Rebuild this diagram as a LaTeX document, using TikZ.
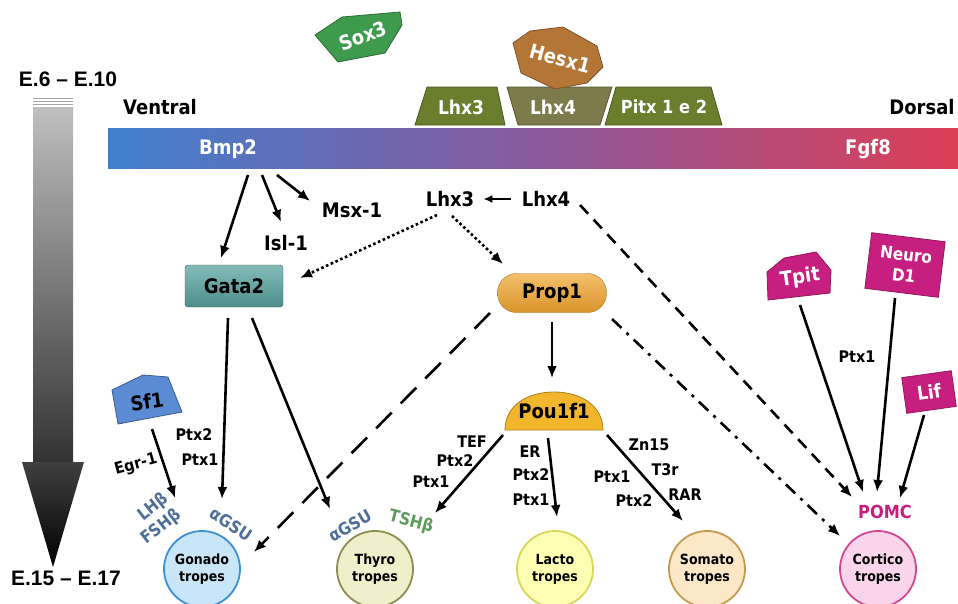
\documentclass[tikz,border=0pt]{standalone}
\usepackage{fontspec}
\setmainfont{DejaVu Sans}[FakeStretch=0.9]
\newfontfamily\arialfont{Liberation Sans}
\usetikzlibrary{positioning,calc,arrows.meta,shapes.geometric}
\definecolor{barblue}{HTML}{3F7FCE}
\definecolor{barpurple}{HTML}{8A5A9E}
\definecolor{barred}{HTML}{DC3E55}
\definecolor{soxgreen}{HTML}{3E9A4C}
\definecolor{hesxbrown}{HTML}{B37636}
\definecolor{olivebox}{HTML}{6A7E2E}
\definecolor{olivegray}{HTML}{7D7B4C}
\definecolor{gatateal}{HTML}{5AA6A3}
\definecolor{proporange}{HTML}{F0A42E}
\definecolor{pouyellow}{HTML}{F2B62C}
\definecolor{sfblue}{HTML}{5B8BD3}
\definecolor{cortmag}{HTML}{C71F7F}
\definecolor{hormblue}{HTML}{4E6F97}
\definecolor{tshgreen}{HTML}{5E9B5E}
\definecolor{gonfill}{HTML}{C8E6F8}
\definecolor{gondraw}{HTML}{3C8FD2}
\definecolor{thyfill}{HTML}{EFEFCC}
\definecolor{thydraw}{HTML}{8C8C52}
\definecolor{lacfill}{HTML}{FFFFB3}
\definecolor{lacdraw}{HTML}{D6D65A}
\definecolor{somfill}{HTML}{FCE8C6}
\definecolor{somdraw}{HTML}{C49A4C}
\definecolor{corfill}{HTML}{F9D4EA}
\definecolor{cordraw}{HTML}{D0478F}

\tikzset{
  lbl/.style={inner sep=0pt, font=\fontsize{20}{20}\selectfont\bfseries},
  wlbl/.style={lbl, text=white},
  small/.style={inner sep=0pt, font=\fontsize{16}{16}\selectfont\bfseries},
  hormone/.style={inner sep=0pt, font=\fontsize{17}{17}\selectfont\bfseries, text=hormblue},
  cell/.style={circle, line width=1.8pt, minimum size=76pt, inner sep=0pt, align=center,
    font=\fontsize{14}{17}\selectfont\bfseries},
  magbox/.style={fill=cortmag, draw=cortmag!75!black, line width=0.8pt, text=white},
  arr/.style={line width=2.6pt, -{Latex[length=12pt,width=10pt]}},
  dotarr/.style={arr, dash pattern=on 2.6pt off 2.6pt},
  dasharr/.style={arr, dash pattern=on 12pt off 8pt},
  longdash/.style={arr, dash pattern=on 22pt off 13pt},
  dashdot/.style={arr, dash pattern=on 13pt off 7pt on 3pt off 7pt},
}

\begin{document}
\begin{tikzpicture}[x=1pt,y=-1pt]
		\useasboundingbox (0,0) rectangle (958,603);
		
		% time axis
		\foreach \yy in {98,101,104}
			\draw[gray!70, line width=1pt] (33,\yy) -- (73,\yy);
		\shade[top color=gray!50, bottom color=black!80] (33,107) rectangle (73,462);
		\shade[top color=black!75, bottom color=black] (22,462) -- (84,462) -- (53,567) -- cycle;
		\node[inner sep=0pt, font=\arialfont\fontsize{21}{21}\selectfont\bfseries] (early) at (68,79) {E.6 – E.10};
		\node[inner sep=0pt, font=\arialfont\fontsize{21}{21}\selectfont\bfseries] (late) at (66,578) {E.15 – E.17};
		
		% ventral - dorsal gradient
		\node[lbl] (ventral) at (160,107) {Ventral};
		\node[lbl] (dorsal) at (922,107) {Dorsal};
		\shade[left color=barblue, right color=barred, middle color=barpurple] (108,128) rectangle (958,168);
		\node[wlbl] (bmp) at (228,149) {Bmp2};
		\node[wlbl] (fgf) at (868,149) {Fgf8};
		
		% top factors
		\filldraw[fill=olivebox, draw=olivebox!70!black, line width=0.8pt] (415,125) -- (427,87) -- (497,87) -- (505,125) -- cycle;
		\node[wlbl, font=\fontsize{19}{19}\selectfont\bfseries] (tlhx3) at (461,107) {Lhx3};
		\filldraw[fill=olivegray, draw=olivegray!70!black, line width=0.8pt] (507,87) -- (518,125) -- (600,125) -- (612,87) -- cycle;
		\node[wlbl, font=\fontsize{19}{19}\selectfont\bfseries] (tlhx4) at (553,107) {Lhx4};
		\filldraw[fill=olivebox, draw=olivebox!70!black, line width=0.8pt] (605,125) -- (616,87) -- (711,87) -- (722,125) -- cycle;
		\node[wlbl, font=\fontsize{18}{18}\selectfont\bfseries] (tpitx) at (664,107) {Pitx 1 e 2};
		
		\filldraw[fill=soxgreen, draw=soxgreen!70!black, line width=0.8pt] (315,35) -- (342,17) -- (400,12) -- (402,25) -- (385,53) -- (338,62) -- cycle;
		\node[wlbl, rotate=20] (sox) at (363,36) {Sox3};
		\filldraw[fill=hesxbrown, draw=hesxbrown!70!black, line width=0.8pt] (513,43) -- (530,31) -- (563,27) -- (597,46) -- (603,67) -- (587,83) -- (555,89) -- (521,73) -- cycle;
		\node[wlbl, rotate=-15] (hesx) at (560,59) {Hesx1};
		
		% middle row
		\node[lbl] (msx) at (352,210) {Msx-1};
		\node[lbl] (isl) at (286,243) {Isl-1};
		\node[lbl] (lhx3) at (450,199) {Lhx3};
		\node[lbl] (lhx4) at (546,199) {Lhx4};
		
		\node[lbl, draw=gatateal!60!black, top color=gatateal!75!white, bottom color=gatateal!85!black,
			rounded corners=3pt, minimum width=98pt, minimum height=42pt] (gata) at (234,286) {Gata2};
		\node[lbl, draw=proporange!70!black, top color=proporange!70!white, bottom color=proporange!90!black,
			rounded corners=19pt, minimum width=109pt, minimum height=39pt] (prop) at (552,293) {Prop1};
		
		\filldraw[fill=pouyellow, draw=pouyellow!70!black, line width=0.8pt] (505,430) .. controls (505,405) and (528,392) .. (554,392) .. controls (580,392) and (603,405) .. (603,430) -- cycle;
		\node[lbl, minimum width=98pt, minimum height=38pt] (pou) at (554,411) {Pou1f1};
		
		\filldraw[fill=sfblue, draw=sfblue!65!black, line width=0.8pt] (118,424) -- (112,390) -- (143,375) -- (168,377) -- (182,412) -- cycle;
		\node[lbl, rotate=8] (sf) at (147,402) {Sf1};
		
		% corticotrope inputs
		\filldraw[magbox] (768,300) -- (767,272) -- (784,258) -- (816,252) -- (831,270) -- (830,293) -- cycle;
		\node[wlbl, rotate=8] (tpit) at (800,278) {Tpit};
		\node[magbox, rotate=-7, minimum width=74pt, minimum height=56pt, align=center, inner sep=0pt,
			font=\fontsize{17}{21}\selectfont\bfseries] (neuro) at (905,265) {Neuro\\D1};
		\node[magbox, rotate=8, minimum width=50pt, minimum height=36pt, inner sep=0pt,
			font=\fontsize{19}{19}\selectfont\bfseries] (lif) at (929,392) {Lif};
		
		% cell types
		\node[cell, draw=gondraw, fill=gonfill] (gonado) at (202,569) {Gonado\\tropes};
		\node[cell, draw=thydraw, fill=thyfill] (thyro) at (375,569) {Thyro\\tropes};
		\node[cell, draw=lacdraw, fill=lacfill] (lacto) at (555,569) {Lacto\\tropes};
		\node[cell, draw=somdraw, fill=somfill] (somato) at (707,569) {Somato\\tropes};
		\node[cell, draw=cordraw, fill=corfill] (cortico) at (878,569) {Cortico\\tropes};
		
		\node[hormone, rotate=38, align=right, font=\fontsize{17}{20}\selectfont\bfseries] (gonhorm) at (155,519) {LHβ\\FSHβ};
		\node[hormone, rotate=-33] (gsua) at (231,524) {αGSU};
		\node[hormone, rotate=30] (gsub) at (350,526) {αGSU};
		\node[hormone, text=tshgreen, rotate=-15] (tsh) at (411,522) {TSHβ};
		\node[inner sep=0pt, font=\fontsize{18}{18}\selectfont\bfseries, text=cortmag] (pomc) at (885,512) {POMC};
		
		% small labels
		\node[small] (ptxa2) at (194,435) {Ptx2};
		\node[small] (ptxa1) at (200,460) {Ptx1};
		\node[small, rotate=15] (egr) at (136,465) {Egr-1};
		\node[small] (tef) at (472,442) {TEF};
		\node[small] (ptxb2) at (455,461) {Ptx2};
		\node[small] (ptxb1) at (431,482) {Ptx1};
		\node[small] (er) at (530,452) {ER};
		\node[small] (ptxc2) at (531,475) {Ptx2};
		\node[small] (ptxc1) at (531,500) {Ptx1};
		\node[small] (zn) at (649,445) {Zn15};
		\node[small] (t3r) at (665,470) {T3r};
		\node[small] (rar) at (685,495) {RAR};
		\node[small] (ptxd1) at (612,477) {Ptx1};
		\node[small] (ptxd2) at (634,501) {Ptx2};
		\node[small] (ptxe) at (857,357) {Ptx1};
		
		% Bmp2 targets
		\coordinate (bs1) at (248,175);
		\coordinate (bs2) at (262,175);
		\coordinate (bs3) at (277,175);
		\draw[arr] (bs1) -- ([shift={(-13,-28)}]gata.center);
		\draw[arr] (bs2) -- ([shift={(-5,-21)}]isl.center);
		\draw[arr] (bs3) -- ([shift={(-42,-9)}]msx.center);
		
		\draw[line width=2.2pt, -{Latex[length=9pt,width=8pt]}, shorten <=11pt, shorten >=9pt] (lhx4.west) -- (lhx3.east);
		\draw[dotarr] ([shift={(-13,16)}]lhx3.center) -- ([shift={(66,-8)}]gata.center);
		\draw[dotarr] ([shift={(2,17)}]lhx3.center) -- ([shift={(-49,-29)}]prop.center);
		\draw[dasharr] ([shift={(34,6)}]lhx4.center) -- ([shift={(-33,-15)}]pomc.center);
		
		% Prop1
		\draw[dashdot] ([shift={(60,26)}]prop.center) -- ([shift={(-38,-33)}]cortico.center);
		\draw[longdash] ([shift={(-62,20)}]prop.center) -- ([shift={(52,-17)}]gonado.center);
		\draw[arr] ([shift={(0,29)}]prop.center) -- ([shift={(-2,-33)}]pou.center);
		
		% Pou1f1
		\draw[arr] ([shift={(-51,24)}]pou.center) -- ([shift={(60,-56)}]thyro.center);
		\draw[arr] ([shift={(-6,27)}]pou.center) -- ([shift={(2,-52)}]lacto.center);
		\draw[arr] ([shift={(53,24)}]pou.center) -- ([shift={(-24,-48)}]somato.center);
		
		% Gata2 and Sf1
		\draw[arr] ([shift={(-6,32)}]gata.center) -- ([shift={(20,-70)}]gonado.center);
		\draw[arr] ([shift={(18,32)}]gata.center) -- ([shift={(-45,-60)}]thyro.center);
		\draw[arr] ([shift={(5,27)}]sf.center) -- ([shift={(-27,-71)}]gonado.center);
		
		% POMC inputs
		\draw[arr] ([shift={(0,27)}]tpit.center) -- ([shift={(-22,-20)}]pomc.center);
		\draw[arr] ([shift={(-10,33)}]neuro.center) -- ([shift={(-8,-20)}]pomc.center);
		\draw[arr] ([shift={(-5,23)}]lif.center) -- ([shift={(15,-14)}]pomc.center);
		
\end{tikzpicture}
\end{document}
